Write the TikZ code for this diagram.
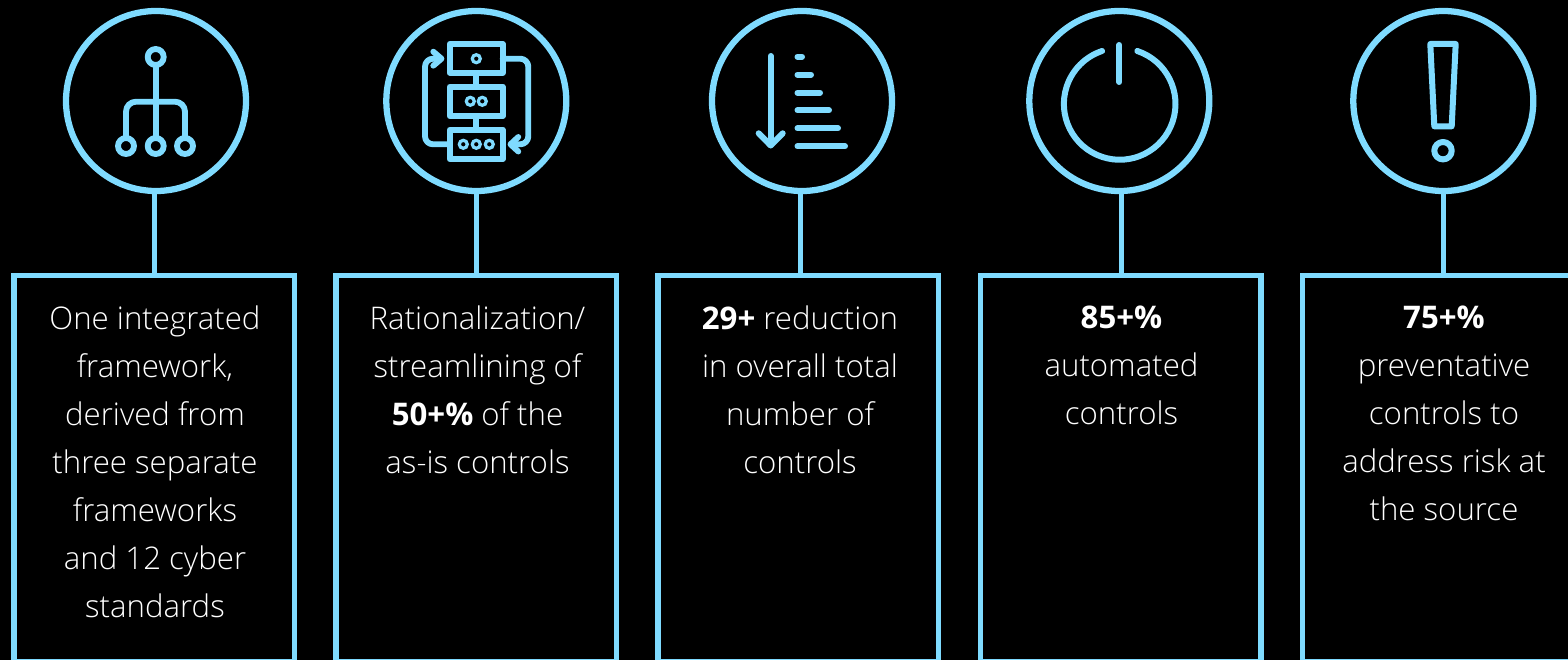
\documentclass[tikz,border=0pt]{standalone}
\usepackage{fontspec}
\setmainfont{Open Sans Light}[BoldFont={Open Sans Bold}]
\definecolor{sky}{HTML}{7FDBFF}
\tikzset{
  disc/.style={circle,draw=sky,line width=4.7pt,minimum size=135pt,inner sep=0pt,outer sep=0pt},
  stem/.style={draw=sky,line width=3.75pt},
  panel/.style={rectangle,draw=sky,line width=3.9pt,minimum width=210.3pt,minimum height=289.9pt,anchor=north west,inner sep=0pt,outer sep=0pt},
  caption/.style={anchor=north,align=center,text=white,font=\fontsize{23.4}{36}\selectfont,inner sep=0pt},
  ico/.style={draw=sky,line width=4.4pt,line cap=round,line join=round},
  icothin/.style={draw=sky,line width=2.4pt},
}
\begin{document}
\begin{tikzpicture}[x=0.75pt,y=-0.75pt]
\useasboundingbox[fill=black] (0,0) rectangle (1568,660);
\clip (0,0) rectangle (1568,660);
% panels
\node[panel] (p1) at (14,275.2) {};
\node[panel] (p2) at (336,275.2) {};
\node[panel] (p3) at (658,275.2) {};
\node[panel] (p4) at (980.5,275.2) {};
\node[panel] (p5) at (1302.8,275.2) {};
% discs
\node[disc] (c1) at (156,101) {};
\node[disc] (c2) at (476.3,101) {};
\node[disc] (c3) at (802,101) {};
\node[disc] (c4) at (1119.3,101) {};
\node[disc] (c5) at (1443.3,101) {};
% stems
\coordinate (s1) at (154.5,275);
\coordinate (s2) at (476,275);
\coordinate (s3) at (800.7,275);
\coordinate (s4) at (1121,275);
\coordinate (s5) at (1443,275);
\draw[stem] (s1 |- c1.south) -- (s1);
\draw[stem] (s2 |- c2.south) -- (s2);
\draw[stem] (s3 |- c3.south) -- (s3);
\draw[stem] (s4 |- c4.south) -- (s4);
\draw[stem] (s5 |- c5.south) -- (s5);
% captions
\node[caption] (t1) at (155,306) {One integrated\\framework,\\derived from\\three separate\\frameworks\\and 12 cyber\\standards};
\node[caption] (t2) at (477.5,306) {Rationalization/\\streamlining of\\\textbf{50+\%} of the\\as-is controls};
\node[caption] (t3) at (800,306) {\textbf{29+} reduction\\in overall total\\number of\\controls};
\node[caption] (t4) at (1121.5,306) {\textbf{85+\%}\\automated\\controls};
\node[caption] (t5) at (1444,306) {\textbf{75+\%}\\preventative\\controls to\\address risk at\\the source};
% icon 1
\draw[ico] (155.7,57) -- (155.7,146);
\draw[ico,rounded corners=7.5] (126,146) -- (126,101.7) -- (185,101.7) -- (185,146);
\foreach \px in {126,155.7,185} \draw[ico,fill=black] (\px,146) circle (8);
\draw[ico,fill=black] (155.7,57) circle (8);
% icon 2
\draw[ico,line width=4.5pt,line cap=butt] (476,72.7) -- (476,86.7) (476,116) -- (476,129.7);
\draw[ico,line width=4.5pt] (449.7,44) rectangle (502.7,72.7);
\draw[ico,line width=4.5pt] (449.7,86.7) rectangle (502.7,116);
\draw[ico,line width=4.5pt] (449.7,129.7) rectangle (502.7,159);
\foreach \px/\py in {476.3/58.7,470.3/101.3,482.3/101.3,463.3/144.3,476.3/144.3,489.3/144.3}
  \draw[icothin] (\px,\py) circle (4);
\draw[ico,rounded corners=6] (449.7,144.3) -- (425,144.3) -- (425,58.7) -- (441,58.7);
\draw[ico] (433.3,51.7) -- (441.5,58.7) -- (433.3,65.7);
\draw[ico,rounded corners=6] (502.7,58.7) -- (528.3,58.7) -- (528.3,144.3) -- (512,144.3);
\draw[ico] (518.3,137) -- (510.5,144.3) -- (518.3,151.5);
% icon 3
\draw[ico,line width=4.5pt] (770.7,56) -- (770.7,145);
\draw[ico,line width=4.5pt] (758.7,133.3) -- (770.7,145.5) -- (782.7,133.3);
\foreach \py/\pe in {56.7/802,74.7/811,92.7/820,110.3/829,128.3/838,146.3/845}
  \draw[ico,line width=4.5pt] (797.5,\py) -- (\pe,\py);
% icon 4
\draw[ico,line width=4.5pt] (1137.3,51) arc[start angle=-71.6,end angle=251.6,radius=55.8];
\draw[ico,line width=4.5pt] (1119.3,45) -- (1119.3,82);
% icon 5
\draw[ico,line width=4.5pt] (1430.3,44) -- (1455.7,44) -- (1451.7,126.3) -- (1434.3,126.3) -- cycle;
\draw[ico,line width=4.5pt] (1443,150.7) circle (8.7);
\end{tikzpicture}
\end{document}
